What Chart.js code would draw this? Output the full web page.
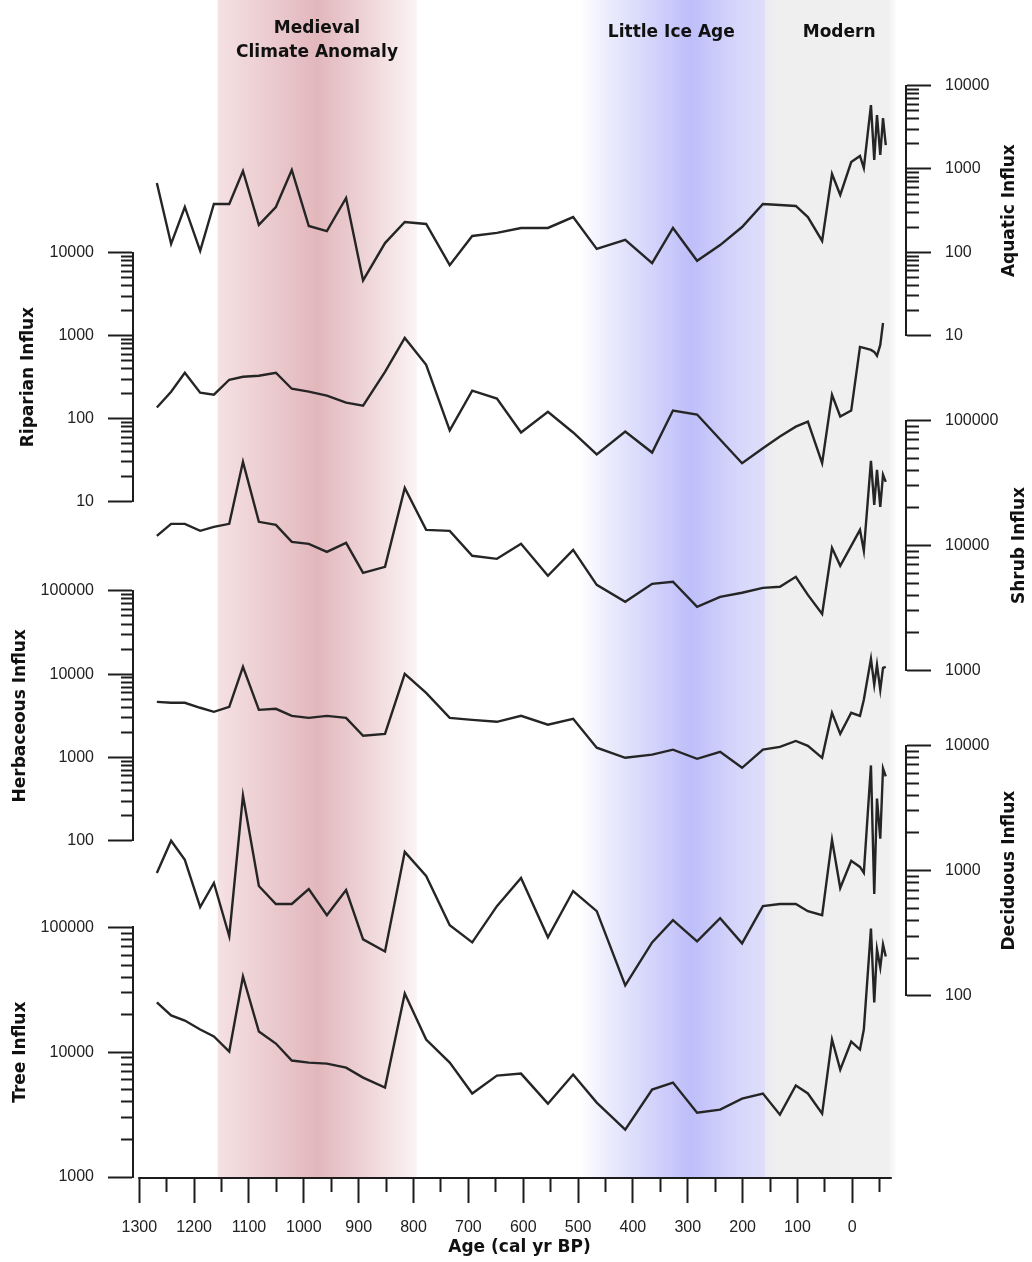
<!DOCTYPE html>
<html>
<head>
<meta charset="utf-8">
<script src="https://cdn.jsdelivr.net/npm/chart.js@4.4.1/dist/chart.umd.min.js"></script>
<style>
  html, body { margin: 0; padding: 0; background: #fff; }
  canvas { display: block; }
</style>
</head>
<body>
<canvas id="influx" width="1032" height="1262"></canvas>
<script>
// sample ages (cal yr BP), shared by the six records
var ages = [1268, 1242, 1217, 1189, 1164, 1136, 1111, 1082, 1051, 1022,
            991, 958, 923, 892, 852, 816, 777, 734, 693, 648,
            604, 555, 509, 466, 414, 365, 327, 283, 241, 201,
            163, 132, 103, 81, 55, 37, 22, 2, -14, -21,
            -34, -40, -45, -51, -56, -61];

var aquatic = [679, 126, 350, 104, 380, 380, 946, 213, 350, 973,
               207, 180, 449, 46, 129, 231, 219, 70, 157, 171,
               196, 196, 265, 110, 141, 74, 196, 79, 122, 201,
               380, 370, 360, 265, 137, 871, 488, 1213, 1432, 1028,
               5860, 1282, 4450, 1472, 4090, 1940];
var riparian = [136, 211, 357, 205, 194, 294, 319, 328, 357, 229,
                211, 189, 156, 143, 366, 938, 445, 72, 217, 174,
                68, 121, 68, 37, 70, 39, 125, 112, 56, 29,
                44, 61, 80, 92, 29, 194, 106, 125, 731, 711,
                673, 637, 570, 773, 1420, null];
var shrub = [11960, 14920, 14920, 13120, 14120, 14920, 46750, 15490, 14650, 10710,
             10320, 8910, 10510, 6050, 6760, 28960, 13360, 13120, 8280, 7830,
             10320, 5730, 9240, 4850, 3550, 4940, 5130, 3240, 3890, 4190,
             4590, 4680, 5620, 4030, 2840, 9590, 6880, 9950, 13360, 9070,
             47600, 21180, 40360, 20420, 36810, 32360];
var herbaceous = [4650, 4530, 4530, 3950, 3530, 4060, 12240, 3730, 3840, 3160,
                  2990, 3160, 2990, 1820, 1920, 10090, 5970, 2990, 2830, 2680,
                  3160, 2470, 2910, 1310, 991, 1080, 1240, 964, 1170, 752,
                  1240, 1340, 1580, 1380, 991, 3440, 1920, 3440, 3160, 4920,
                  15240, 7450, 12940, 6490, 11910, 12240];
var deciduous = [959, 1733, 1219, 511, 796, 299, 3980, 753, 541, 541,
                 713, 441, 700, 282, 226, 1413, 906, 366, 267, 520,
                 874, 293, 687, 474, 121, 267, 402, 272, 417, 262,
                 520, 541, 541, 474, 441, 1765, 726, 1197, 1071, 959,
                 6930, 650, 3770, 1800, 6560, 5660];
var tree = [25060, 19720, 17960, 15210, 13370, 10130, 40520, 14650, 11740, 8580,
            8260, 8110, 7530, 6260, 5210, 29580, 12640, 8260, 4670, 6500,
            6740, 3870, 6620, 3950, 2400, 5020, 5710, 3280, 3470, 4250,
            4670, 3160, 5410, 4670, 3220, 12640, 7260, 12190, 10510, 15210,
            98000, 25060, 66700, 47860, 73110, 58630];

var seriesNames = ['Aquatic Influx', 'Riparian Influx', 'Shrub Influx',
                   'Herbaceous Influx', 'Deciduous Influx', 'Tree Influx'];
var axisMin = [10, 10, 1000, 100, 100, 1000];
var axisMax = [10000, 10000, 100000, 100000, 10000, 100000];

var ageTickValues = [1300, 1250, 1200, 1150, 1100, 1050, 1000, 950, 900, 850, 800, 750,
                     700, 650, 600, 550, 500, 450, 400, 350, 300, 250, 200, 150, 100, 50, 0, -50];

var periodNames = [['Medieval', 'Climate Anomaly'], ['Little Ice Age'], ['Modern']];
var periodFrom = [1157, 497, 159];
var periodTo = [794, 159, -82];

// ---- look ----
var ink = '#1c1c1c';
var leftW = 133, rightW = 126, bottomH = 85;
var tickFont = { family: "'Liberation Sans', Arial, sans-serif", size: 16 };
var boldFont = { family: "'DejaVu Sans', sans-serif", size: 17, weight: 'bold' };
var periodLook = [
  { stops: [[0, '#f5e1e4'], [0.5, '#e2b7bc'], [1, '#fbf3f4']], labelAge: 976, labelY: [29, 53] },
  { stops: [[0, '#ffffff'], [0.15, '#ececfd'], [0.6, '#bebefa'], [0.85, '#d6d6fb'], [1, '#dedefa']], labelAge: 330, labelY: [33] },
  { stops: [[0, '#ebebf0'], [0.1, '#efefef'], [0.93, '#f0f0f0'], [1, '#ffffff']], labelAge: 24, labelY: [33] }
];
var rightTitleX = { yAqu: 1010, yShr: 1020, yDec: 1010 };

function isDecade(v) {
  var l = Math.log10(v);
  return Math.abs(l - Math.round(l)) < 1e-9;
}
function decadeTicks(lo, hi) {
  var out = [];
  for (var e = Math.round(Math.log10(lo)); Math.pow(10, e) < hi; e++) {
    for (var m = 1; m < 10; m++) out.push(m * Math.pow(10, e));
  }
  out.push(hi);
  return out;
}
function points(vals) {
  return ages.map(function (a, i) { return { x: a, y: vals[i] }; });
}
function noPadding(s) {
  s.paddingTop = 0; s.paddingBottom = 0; s.paddingLeft = 0; s.paddingRight = 0;
}

function logAxis(side, k, weight, px, titlePad) {
  var left = side === 'left';
  var lo = axisMin[k], hi = axisMax[k];
  return {
    type: 'logarithmic', position: side, axis: 'y', stack: side, stackWeight: px, weight: weight,
    min: lo, max: hi,
    afterFit: function (s) { s.width = left ? leftW : rightW; noPadding(s); },
    afterBuildTicks: function (s) {
      s.ticks = decadeTicks(lo, hi).map(function (v) { return { value: v }; });
    },
    border: { display: true, color: ink, width: 2 },
    grid: {
      drawOnChartArea: false, drawTicks: true, tickLength: 25, tickWidth: 2, tickColor: ink,
      tickBorderDash: function (c) { return c.tick && !isDecade(c.tick.value) ? [12, 13] : []; },
      tickBorderDashOffset: function (c) { return left && c.tick && !isDecade(c.tick.value) ? 12 : 0; }
    },
    ticks: {
      autoSkip: false, padding: 14, color: '#222', font: tickFont,
      callback: function (v) { return isDecade(v) ? String(v) : ''; }
    },
    title: { display: left, text: seriesNames[k], color: '#111', font: boldFont,
             padding: { top: titlePad, bottom: 0 } }
  };
}
function gapAxis(side, weight, px) {
  return {
    type: 'linear', position: side, axis: 'y', stack: side, stackWeight: px, weight: weight,
    afterFit: function (s) { s.width = side === 'left' ? leftW : rightW; noPadding(s); },
    ticks: { display: false }, grid: { display: false }, border: { display: false }
  };
}

var periodsPlugin = {
  id: 'periods',
  beforeDraw: function (chart) {
    var ctx = chart.ctx, area = chart.chartArea, xs = chart.scales.x;
    ctx.save();
    for (var i = 0; i < periodNames.length; i++) {
      var x0 = xs.getPixelForValue(periodFrom[i]);
      var x1 = xs.getPixelForValue(periodTo[i]);
      var g = ctx.createLinearGradient(x0, 0, x1, 0);
      periodLook[i].stops.forEach(function (s) { g.addColorStop(s[0], s[1]); });
      ctx.fillStyle = g;
      ctx.fillRect(x0, area.top, x1 - x0, area.bottom - area.top);
    }
    ctx.fillStyle = '#111';
    ctx.font = 'bold 17px "DejaVu Sans"';
    ctx.textAlign = 'center';
    ctx.textBaseline = 'middle';
    for (var j = 0; j < periodNames.length; j++) {
      var cx = xs.getPixelForValue(periodLook[j].labelAge);
      periodNames[j].forEach(function (line, n) { ctx.fillText(line, cx, periodLook[j].labelY[n]); });
    }
    ctx.restore();
  },
  afterDraw: function (chart) {
    var ctx = chart.ctx, area = chart.chartArea, xs = chart.scales.x;
    ctx.save();
    ctx.strokeStyle = ink;
    ctx.lineWidth = 2;
    ctx.beginPath();
    ctx.moveTo(xs.getPixelForValue(ageTickValues[0]) - 1, area.bottom + 1);
    ctx.lineTo(xs.getPixelForValue(-72), area.bottom + 1);
    ctx.stroke();
    ctx.fillStyle = '#111';
    ctx.font = 'bold 17px "DejaVu Sans"';
    ctx.textAlign = 'center';
    ctx.textBaseline = 'middle';
    [['yAqu', 0], ['yShr', 2], ['yDec', 4]].forEach(function (r) {
      var s = chart.scales[r[0]];
      ctx.save();
      ctx.translate(rightTitleX[r[0]], (s.top + s.bottom) / 2);
      ctx.rotate(-Math.PI / 2);
      ctx.fillText(seriesNames[r[1]], 0, 0);
      ctx.restore();
    });
    ctx.restore();
  }
};

var records = [aquatic, riparian, shrub, herbaceous, deciduous, tree];
var axisIds = ['yAqu', 'yRip', 'yShr', 'yHer', 'yDec', 'yTre'];
var datasets = records.map(function (vals, k) {
  return {
    label: seriesNames[k], data: points(vals), yAxisID: axisIds[k], xAxisID: 'x',
    borderColor: '#252525', borderWidth: 2.4, pointRadius: 0, tension: 0, fill: false, clip: false
  };
});

new Chart(document.getElementById('influx'), {
  type: 'line',
  data: { datasets: datasets },
  plugins: [periodsPlugin],
  options: {
    responsive: false, animation: false, devicePixelRatio: 1,
    layout: { padding: 0 },
    plugins: { legend: { display: false }, tooltip: { enabled: false } },
    scales: {
      x: {
        type: 'linear', position: 'bottom', reverse: true, min: -97.9, max: 1311.5,
        afterFit: function (s) { s.height = bottomH; noPadding(s); },
        afterBuildTicks: function (s) {
          s.ticks = ageTickValues.map(function (v) { return { value: v }; });
        },
        border: { display: false },
        grid: {
          drawOnChartArea: false, drawTicks: true, tickLength: 26, tickWidth: 2, tickColor: ink,
          tickBorderDash: function (c) { return c.tick && c.tick.value % 100 !== 0 ? [15, 11] : []; }
        },
        ticks: {
          autoSkip: false, maxRotation: 0, padding: 15, color: '#222', font: tickFont,
          callback: function (v) { return v % 100 === 0 ? String(v) : ''; }
        },
        title: { display: true, text: 'Age (cal yr BP)', color: '#111', font: boldFont,
                 padding: { top: 0, bottom: 4 } }
      },
      gapL0: gapAxis('left', 6, 252.7),
      yRip: logAxis('left', 1, 5, 249, 18.5),
      gapL1: gapAxis('left', 4, 89.3),
      yHer: logAxis('left', 3, 3, 250, 10),
      gapL2: gapAxis('left', 2, 86.7),
      yTre: logAxis('left', 5, 1, 249.6, 10.5),
      gapR0: gapAxis('right', 1, 85.7),
      yAqu: logAxis('right', 0, 2, 250, 0),
      gapR1: gapAxis('right', 3, 85),
      yShr: logAxis('right', 2, 4, 250, 0),
      gapR2: gapAxis('right', 5, 75),
      yDec: logAxis('right', 4, 6, 250.3, 0),
      gapR3: gapAxis('right', 7, 181.3)
    }
  }
});
</script>
</body>
</html>
